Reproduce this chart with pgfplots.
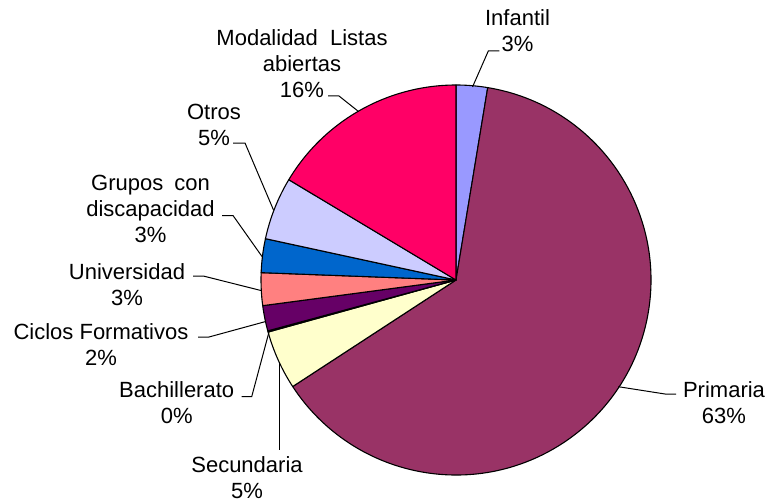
\documentclass[border=0pt]{standalone}
\usepackage{fontspec}
\setmainfont{Liberation Sans}
\usepackage{pgfplots}
\usepackage{pgfplotstable}
\pgfplotsset{compat=1.18}
\definecolor{cInf}{HTML}{9999FF}
\definecolor{cPri}{HTML}{993366}
\definecolor{cSec}{HTML}{FFFFCC}
\definecolor{cBac}{HTML}{CCFFFF}
\definecolor{cCic}{HTML}{660066}
\definecolor{cUni}{HTML}{FF8080}
\definecolor{cGru}{HTML}{0066CC}
\definecolor{cOtr}{HTML}{CCCCFF}
\definecolor{cMod}{HTML}{FF0066}

% share (%) of each slice, clockwise from 12 o'clock
\pgfplotstableread{
value color
2.6 cInf
63.2 cPri
4.9 cSec
0.1 cBac
2.1 cCic
2.7 cUni
2.8 cGru
5.2 cOtr
16.4 cMod
}\piedata

\tikzset{lbl/.style={inner sep=0pt,align=center}}

\begin{document}
\begin{tikzpicture}[font=\fontsize{22bp}{26bp}\selectfont]
\begin{axis}[width=769bp,height=504bp,scale only axis,
  xmin=0,xmax=769,ymin=0,ymax=504,y dir=reverse,
  axis lines=none,clip=false]
\pgfplotstablegetrowsof{\piedata}
\pgfmathtruncatemacro\nrows{\pgfplotsretval-1}
\def\cum{0}
\pgfplotsforeachungrouped \i in {0,...,\nrows}{%
  \pgfplotstablegetelem{\i}{value}\of\piedata \let\sliceval\pgfplotsretval
  \pgfplotstablegetelem{\i}{color}\of\piedata \let\slicecolor\pgfplotsretval
  \pgfmathsetmacro\angA{90-3.6*\cum}%
  \pgfmathsetmacro\cum{\cum+\sliceval}%
  \pgfmathsetmacro\angB{90-3.6*\cum}%
  \edef\temp{\noexpand\filldraw[fill=\slicecolor,draw=black,line width=1.1bp,line join=round] (axis cs:456,280) -- ++(\angA:195bp) arc[start angle=\angA,end angle=\angB,radius=195bp] -- cycle;}%
  \temp
}

% leader lines
\draw[line width=1bp] (472.5,87) -- (488.3,51) -- (499.3,51);
\draw[line width=1bp] (618.3,386.7) -- (665,394) -- (676,394);
\draw[line width=1bp] (279,362) -- (279,450);
\draw[line width=1bp] (269,332) -- (251.7,396.7) -- (241.7,396.7);
\draw[line width=1bp] (265,321.7) -- (209,337) -- (198,337);
\draw[line width=1bp] (261.7,290.7) -- (203.3,276) -- (193,276);
\draw[line width=1bp] (262,256.5) -- (233,215.5) -- (222,215.5);
\draw[line width=1bp] (273.5,210) -- (245,143) -- (233,143);
\draw[line width=1bp] (358.5,111.5) -- (339,96) -- (328,96);

% labels
\node[lbl] at (517.5,31) {Infantil\\3\%};
\node[lbl] at (724,402.5) {Primaria\\63\%};
\node[lbl] at (247,478) {Secundaria\\5\%};
\node[lbl] at (176.7,403) {Bachillerato\\0\%};
\node[lbl] at (101,345) {Ciclos Formativos\\2\%};
\node[lbl] at (127,285) {Universidad\\3\%};
\node[lbl] at (150.5,209) {Grupos\hspace{0.5em}con\\discapacidad\\3\%};
\node[lbl] at (214,124.5) {Otros\\5\%};
\node[lbl] at (302,63.5) {Modalidad\hspace{0.55em}Listas\\abiertas\\16\%};
\end{axis}
\pgfresetboundingbox
\useasboundingbox (0,0) rectangle (769bp,504bp);
\end{tikzpicture}
\end{document}
